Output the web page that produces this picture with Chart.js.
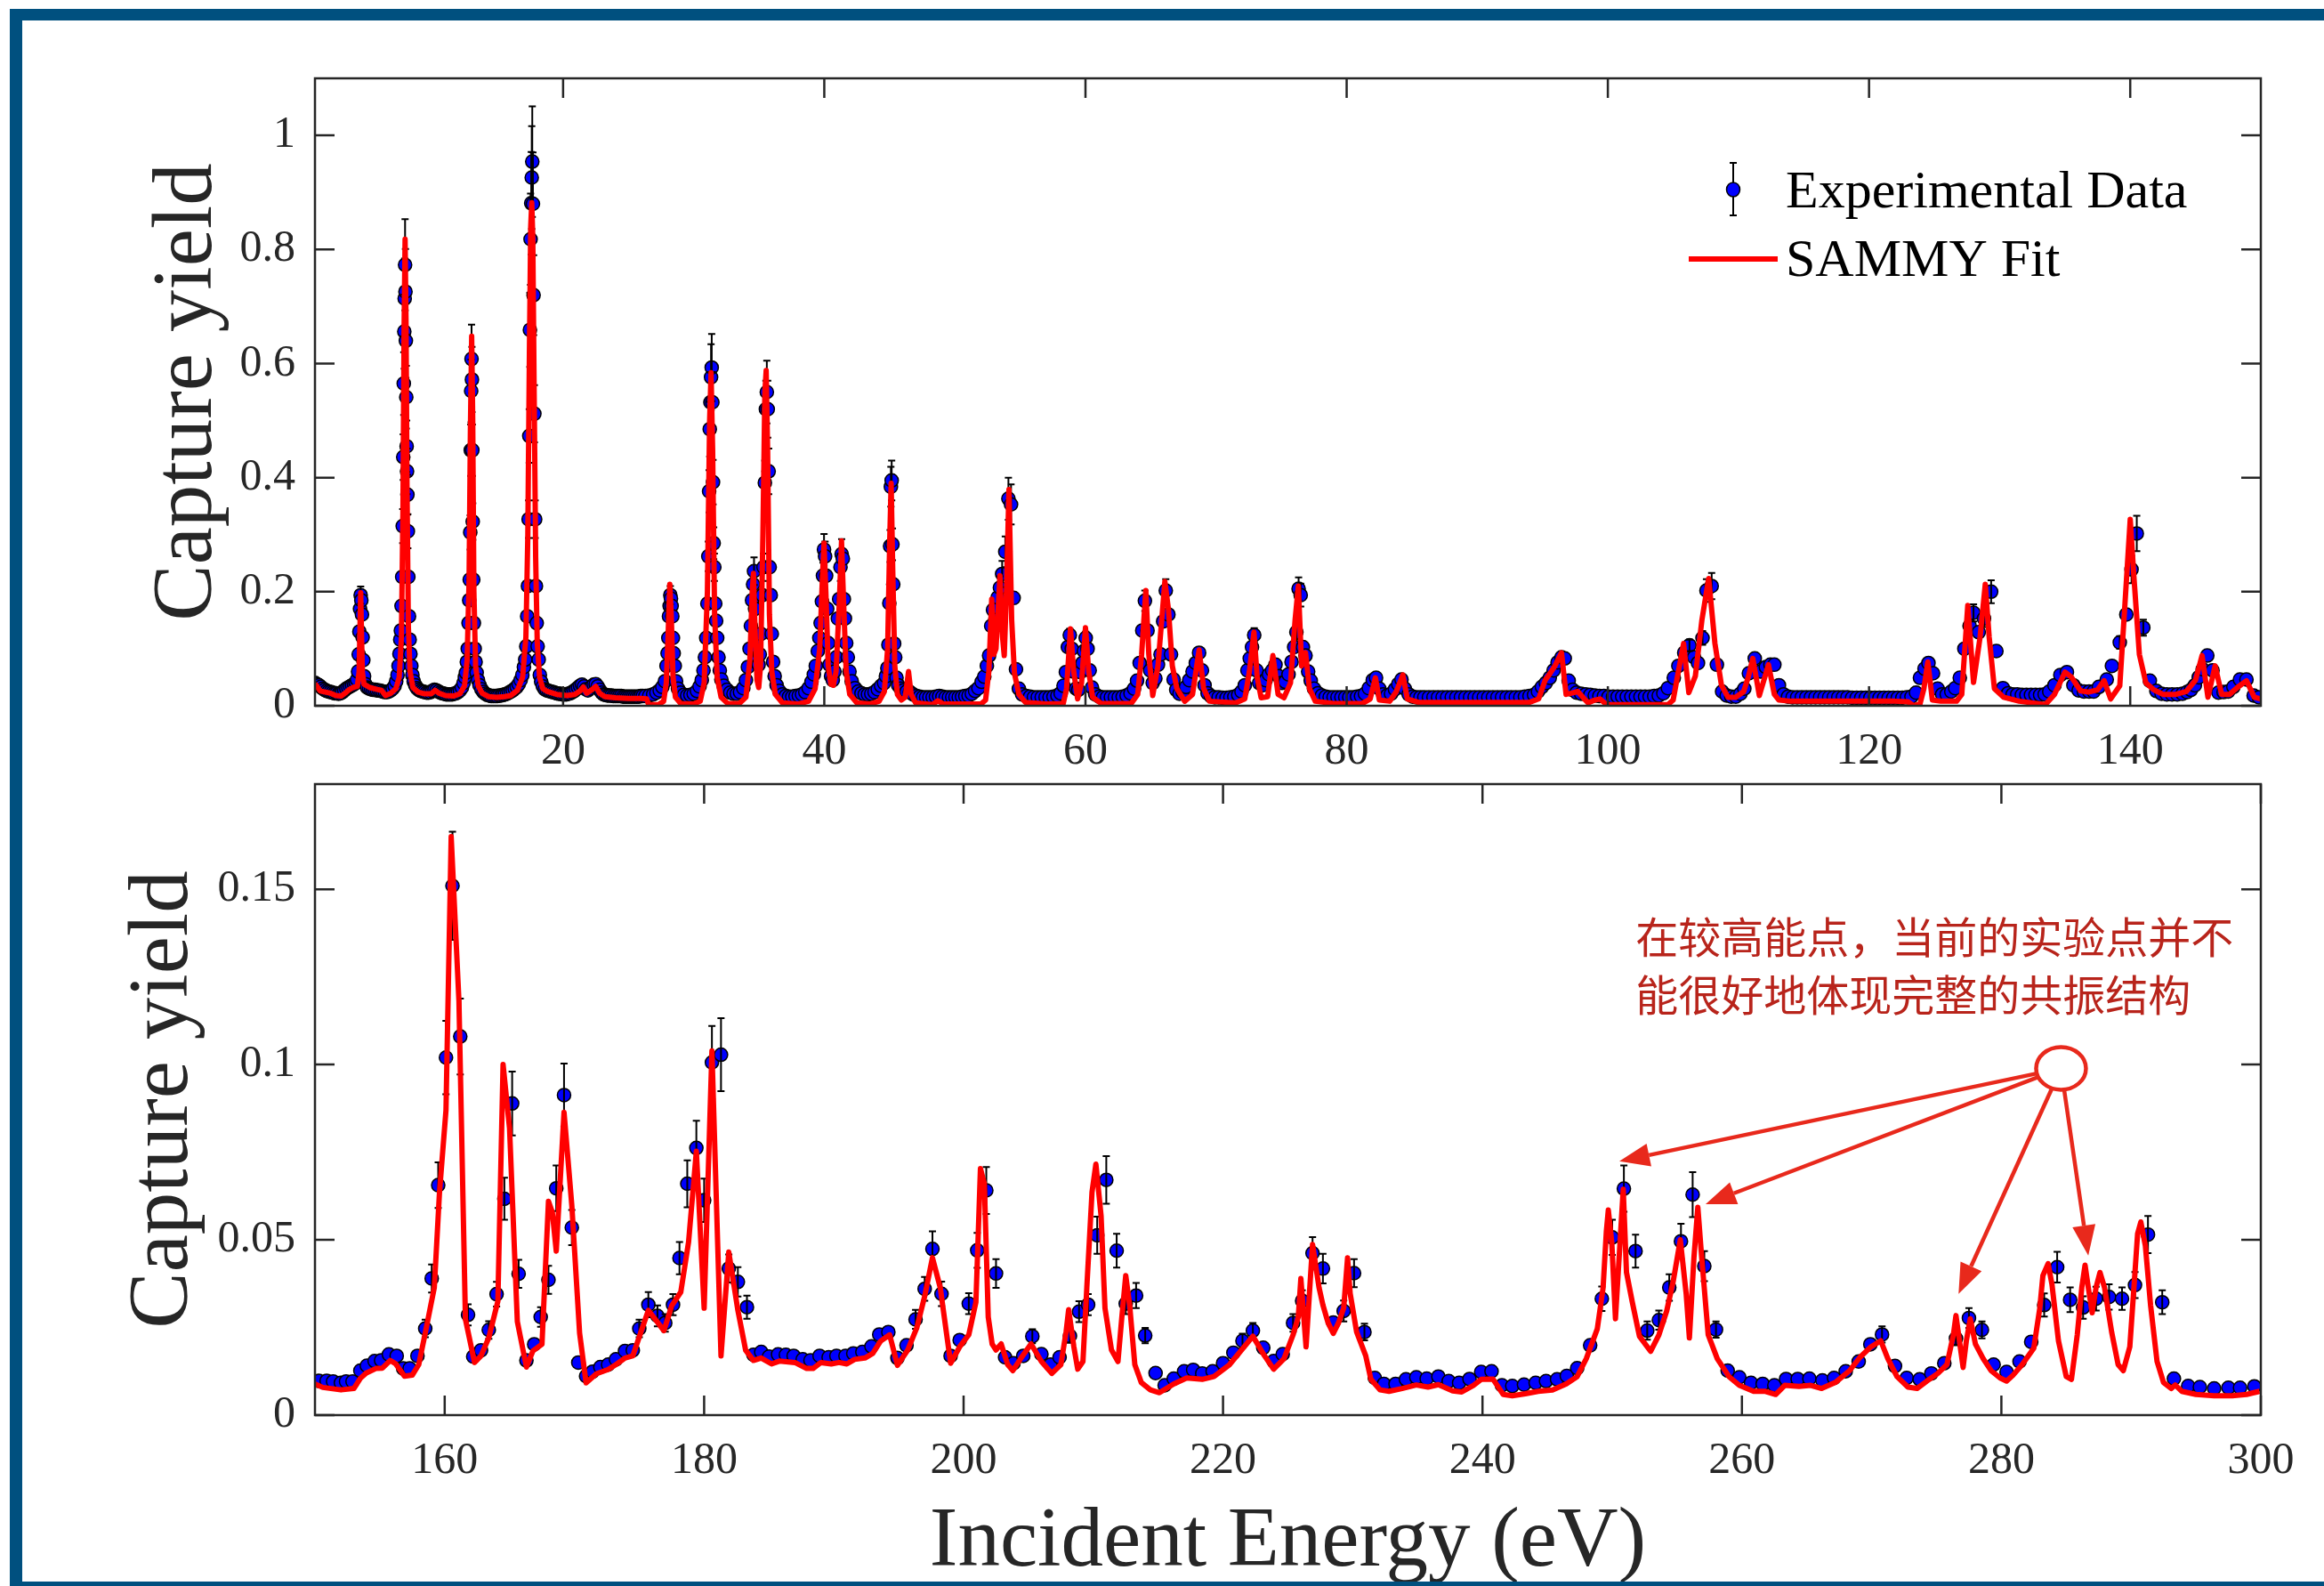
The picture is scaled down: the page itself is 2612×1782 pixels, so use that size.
<!DOCTYPE html>
<html>
<head>
<meta charset="utf-8">
<title>Capture yield</title>
<script src="https://cdn.jsdelivr.net/npm/chart.js@4.4.1/dist/chart.umd.min.js"></script>
<style>
  html, body { margin: 0; padding: 0; background: #fff; }
  #page { position: relative; width: 2612px; height: 1782px; overflow: hidden; background: #fff; }
  #page canvas { position: absolute; left: 0; }
  #topChart { top: 0; }
  #bottomChart { top: 870px; }
  .edge { position: absolute; background: #00507f; z-index: 2; }
</style>
</head>
<body>
<div id="page">
  <canvas id="topChart" width="2612" height="870"></canvas>
  <canvas id="bottomChart" width="2612" height="912"></canvas>
  <div class="edge" style="left:11px;top:10px;width:2601px;height:13px"></div>
  <div class="edge" style="left:11px;top:10px;width:14px;height:1772px"></div>
  <div class="edge" style="left:11px;top:1777px;width:2601px;height:5px"></div>
</div>
<script>
// ---- data: [energy eV, yield, error] ----
const expTop = [
  [1.00,0.040],[1.15,0.038],[1.30,0.036],[1.45,0.033],[1.60,0.030],[1.75,0.028],[1.90,0.026],[2.05,0.025],[2.20,0.024],[2.35,0.023],
  [2.50,0.022],[2.65,0.022],[2.80,0.021],[2.95,0.022],[3.10,0.024],[3.25,0.027],[3.40,0.030],[3.55,0.032],[3.70,0.034],[3.85,0.036],
  [4.00,0.038],[4.12,0.041],[4.22,0.046],[4.30,0.060],[4.35,0.090],[4.40,0.130],[4.45,0.170],[4.50,0.194,0.015],[4.55,0.185],[4.60,0.160],
  [4.65,0.120],[4.70,0.080],[4.76,0.052],[4.85,0.038],[5.00,0.032],[5.15,0.030],[5.30,0.029],[5.45,0.028],[5.60,0.028],[5.75,0.027],
  [5.90,0.027],[6.05,0.026],[6.20,0.025],[6.35,0.024],[6.50,0.024],[6.65,0.025],[6.80,0.027],[6.95,0.030],[7.10,0.035],[7.22,0.043],
  [7.32,0.054],[7.40,0.070],[7.47,0.091],[7.53,0.116],[7.58,0.132],[7.63,0.175],[7.68,0.226],[7.72,0.315,0.03],[7.76,0.436,0.04],[7.80,0.565,0.055],
  [7.84,0.656,0.065],[7.87,0.714,0.07],[7.90,0.773,0.08],[7.93,0.726,0.075],[7.96,0.640,0.065],[7.99,0.541,0.055],[8.02,0.455,0.045],[8.05,0.411,0.04],[8.08,0.370,0.035],[8.11,0.306,0.03],
  [8.15,0.226],[8.20,0.157],[8.25,0.116],[8.31,0.091],[8.38,0.070],[8.46,0.054],[8.56,0.043],[8.68,0.036],[8.80,0.031],[8.95,0.028],
  [9.10,0.026],[9.25,0.025],[9.40,0.024],[9.55,0.023],[9.70,0.023],[9.85,0.024],[10.00,0.026],[10.15,0.028],[10.30,0.027],[10.45,0.025],
  [10.60,0.023],[10.75,0.022],[10.90,0.021],[11.05,0.020],[11.20,0.020],[11.35,0.020],[11.50,0.020],[11.65,0.021],[11.80,0.022],[11.95,0.024],
  [12.10,0.027],[12.25,0.032],[12.38,0.040],[12.48,0.050],[12.56,0.058],[12.63,0.077],[12.70,0.100],[12.76,0.145],[12.81,0.185],[12.85,0.221],
  [12.89,0.304,0.03],[12.93,0.448,0.045],[12.96,0.552,0.055],[12.99,0.608,0.06],[13.02,0.572,0.057],[13.05,0.448,0.045],[13.08,0.323,0.032],[13.12,0.221],[13.17,0.145],[13.23,0.100],
  [13.30,0.077],[13.38,0.058],[13.48,0.045],[13.60,0.036],[13.75,0.029],[13.90,0.024],[14.05,0.021],[14.20,0.019],[14.35,0.018],[14.50,0.017],
  [14.65,0.017],[14.80,0.017],[14.95,0.017],[15.10,0.018],[15.25,0.018],[15.40,0.019],[15.55,0.020],[15.70,0.021],[15.85,0.023],[16.00,0.025],
  [16.15,0.027],[16.30,0.030],[16.45,0.033],[16.60,0.038],[16.75,0.045],[16.88,0.054],[17.00,0.068],[17.10,0.081],[17.18,0.104],[17.25,0.157],
  [17.31,0.210],[17.36,0.327,0.033],[17.41,0.473,0.047],[17.46,0.659,0.065],[17.51,0.818,0.08],[17.56,0.881,0.09],[17.60,0.926,0.09],[17.64,0.954,0.097],[17.69,0.880,0.09],[17.74,0.720,0.07],
  [17.80,0.512,0.05],[17.86,0.327,0.033],[17.92,0.210],[17.98,0.145],[18.05,0.104],[18.13,0.081],[18.22,0.054],[18.32,0.042],[18.45,0.034],[18.60,0.029],
  [18.75,0.027],[18.90,0.026],[19.05,0.025],[19.20,0.024],[19.35,0.023],[19.50,0.022],[19.65,0.021],[19.80,0.021],[19.95,0.020],[20.10,0.020],
  [20.25,0.020],[20.40,0.021],[20.55,0.022],[20.70,0.024],[20.85,0.026],[21.00,0.029],[21.15,0.032],[21.30,0.035],[21.45,0.037],[21.60,0.034],
  [21.75,0.029],[21.90,0.027],[22.05,0.030],[22.20,0.034],[22.35,0.037],[22.50,0.038],[22.65,0.034],[22.80,0.028],[22.95,0.023],[23.10,0.020],
  [23.25,0.019],[23.40,0.018],[23.55,0.018],[23.70,0.018],[23.85,0.017],[24.00,0.017],[24.15,0.017],[24.30,0.017],[24.45,0.017],[24.60,0.016],
  [24.75,0.016],[24.90,0.016],[25.05,0.016],[25.20,0.016],[25.35,0.016],[25.50,0.016],[25.65,0.016],[25.80,0.016],[25.95,0.017],[26.10,0.017],
  [26.30,0.017],[26.60,0.018],[26.90,0.020],[27.15,0.023],[27.40,0.027],[27.60,0.033],[27.80,0.043],[27.92,0.070],[28.00,0.092],[28.06,0.119],
  [28.11,0.157],[28.16,0.175],[28.21,0.194,0.016],[28.26,0.188],[28.31,0.175],[28.36,0.157],[28.41,0.119],[28.47,0.092],[28.55,0.070],[28.65,0.043],
  [28.80,0.030],[29.00,0.023],[29.25,0.019],[29.50,0.018],[29.75,0.019],[30.00,0.021],[30.25,0.026],[30.45,0.034],[30.62,0.045],[30.75,0.062],
  [30.86,0.085],[30.96,0.119],[31.05,0.179],[31.12,0.262,0.026],[31.18,0.376,0.037],[31.23,0.485,0.048],[31.28,0.532,0.053],[31.33,0.576,0.058],[31.38,0.593,0.059],[31.43,0.532,0.053],
  [31.48,0.392,0.039],[31.53,0.285,0.028],[31.58,0.243,0.024],[31.65,0.179],[31.72,0.149],[31.80,0.119],[31.90,0.085],[32.00,0.062],[32.12,0.046],[32.30,0.035],
  [32.55,0.028],[32.80,0.023],[33.05,0.021],[33.30,0.021],[33.55,0.024],[33.80,0.031],[34.00,0.045],[34.15,0.068],[34.28,0.100],[34.38,0.140],
  [34.47,0.185],[34.55,0.213],[34.62,0.236,0.024],[34.70,0.170],[34.79,0.115],[34.88,0.085],[34.97,0.072],[35.06,0.090],[35.15,0.126],[35.25,0.194],
  [35.35,0.243,0.024],[35.45,0.391,0.039],[35.53,0.520,0.05],[35.60,0.550,0.055],[35.67,0.520,0.05],[35.74,0.411,0.04],[35.82,0.243],[35.90,0.194],[35.98,0.126],[36.08,0.077],
  [36.20,0.052],[36.35,0.036],[36.55,0.026],[36.80,0.020],[37.05,0.017],[37.30,0.016],[37.55,0.016],[37.80,0.017],[38.05,0.018],[38.30,0.020],
  [38.55,0.024],[38.80,0.031],[39.02,0.042],[39.20,0.055],[39.35,0.070],[39.50,0.096],[39.62,0.119],[39.72,0.145],[39.82,0.183],[39.90,0.228,0.023],
  [39.98,0.274,0.027],[40.06,0.262,0.026],[40.14,0.228],[40.22,0.170],[40.30,0.110],[40.40,0.072],[40.52,0.052],[40.65,0.045],[40.78,0.060],[40.92,0.085],
  [41.04,0.153],[41.14,0.187],[41.24,0.243,0.024],[41.33,0.266,0.026],[41.42,0.258],[41.50,0.187],[41.58,0.153],[41.68,0.110],[41.80,0.085],[41.93,0.060],
  [42.10,0.043],[42.35,0.031],[42.60,0.025],[42.85,0.022],[43.10,0.020],[43.35,0.020],[43.60,0.021],[43.85,0.024],[44.10,0.029],[44.35,0.035],
  [44.58,0.040],[44.72,0.052],[44.83,0.066],[44.91,0.107],[44.98,0.180],[45.04,0.280,0.028],[45.10,0.384,0.035],[45.16,0.395,0.035],[45.22,0.283,0.028],[45.28,0.213],
  [45.35,0.109],[45.43,0.085],[45.53,0.049],[45.66,0.036],[45.85,0.030],[46.05,0.027],[46.30,0.025],[46.55,0.024],[46.80,0.020],[47.05,0.017],
  [47.30,0.016],[47.55,0.015],[47.80,0.015],[48.05,0.015],[48.30,0.015],[48.55,0.016],[48.80,0.017],[49.05,0.016],[49.30,0.015],[49.55,0.015],
  [49.80,0.015],[50.05,0.015],[50.30,0.015],[50.55,0.016],[50.80,0.017],[51.05,0.018],[51.30,0.021],[51.55,0.026],[51.80,0.031],[52.05,0.042],
  [52.25,0.051],[52.45,0.070],[52.62,0.088],[52.78,0.140],[52.92,0.168],[53.10,0.150],[53.28,0.190],[53.45,0.207,0.02],[53.62,0.231,0.023],[53.86,0.270,0.027],
  [54.10,0.363,0.037],[54.30,0.353,0.035],[54.50,0.189],[54.68,0.064],[54.90,0.030],[55.15,0.020],[55.45,0.017],[55.75,0.016],[56.05,0.015],[56.35,0.015],
  [56.65,0.015],[56.95,0.015],[57.25,0.015],[57.55,0.016],[57.85,0.018],[58.10,0.022],[58.32,0.035],[58.50,0.059],[58.65,0.103],[58.80,0.124,0.011],
  [58.95,0.100],[59.10,0.060],[59.28,0.030],[59.45,0.028],[59.62,0.059],[59.76,0.075],[59.88,0.096],[60.02,0.119,0.011],[60.16,0.100],[60.32,0.062],
  [60.50,0.032],[60.75,0.020],[61.05,0.016],[61.35,0.015],[61.65,0.015],[61.95,0.015],[62.25,0.015],[62.55,0.015],[62.85,0.016],[63.15,0.018],
  [63.45,0.022],[63.72,0.030],[63.95,0.044],[64.15,0.075],[64.35,0.132],[64.55,0.184,0.018],[64.75,0.132],[64.95,0.062],[65.15,0.040],[65.35,0.048],
  [65.55,0.072],[65.75,0.090],[65.95,0.148],[66.15,0.202,0.02],[66.35,0.160],[66.55,0.090],[66.75,0.046],[66.95,0.028],[67.20,0.021],[67.45,0.024],
  [67.70,0.033],[67.95,0.045],[68.20,0.060],[68.45,0.075],[68.70,0.093],[68.92,0.062],[69.12,0.036],[69.35,0.022],[69.60,0.017],[69.90,0.015],
  [70.20,0.015],[70.50,0.014],[70.80,0.014],[71.10,0.015],[71.40,0.016],[71.70,0.019],[71.95,0.025],[72.20,0.036],[72.40,0.062],[72.58,0.083],
  [72.75,0.103],[72.92,0.124,0.012],[73.10,0.062],[73.30,0.040],[73.55,0.036],[73.80,0.045],[74.05,0.055],[74.30,0.062],[74.55,0.072],[74.80,0.052],
  [75.05,0.040],[75.30,0.042],[75.55,0.055],[75.78,0.077],[75.98,0.103],[76.15,0.129,0.013],[76.32,0.205,0.02],[76.48,0.194,0.02],[76.65,0.103],[76.85,0.088],
  [77.05,0.060],[77.25,0.044],[77.50,0.030],[77.80,0.022],[78.10,0.018],[78.40,0.016],[78.70,0.015],[79.00,0.015],[79.30,0.015],[79.60,0.015],
  [79.90,0.015],[80.20,0.015],[80.50,0.015],[80.80,0.016],[81.10,0.017],[81.40,0.021],[81.70,0.031],[82.00,0.045],[82.25,0.049],[82.50,0.030],
  [82.80,0.020],[83.10,0.018],[83.40,0.021],[83.70,0.029],[83.95,0.038],[84.20,0.046],[84.45,0.030],[84.75,0.020],[85.05,0.016],[85.35,0.015],
  [85.65,0.015],[85.95,0.015],[86.30,0.015],[86.65,0.015],[87.00,0.015],[87.35,0.015],[87.70,0.015],[88.05,0.015],[88.40,0.015],[88.75,0.015],
  [89.10,0.015],[89.45,0.015],[89.80,0.015],[90.15,0.015],[90.50,0.015],[90.85,0.015],[91.20,0.015],[91.55,0.015],[91.90,0.015],[92.25,0.015],
  [92.60,0.015],[92.95,0.015],[93.30,0.015],[93.65,0.016],[94.00,0.017],[94.35,0.019],[94.65,0.025],[94.95,0.033],[95.25,0.040],[95.55,0.049],
  [95.85,0.062],[96.15,0.076],[96.45,0.085],[96.70,0.083],[97.00,0.044],[97.30,0.028],[97.60,0.023],[97.95,0.021],[98.30,0.020],[98.65,0.019],
  [99.00,0.018],[99.35,0.017],[99.70,0.017],[100.05,0.016],[100.40,0.016],[100.75,0.016],[101.10,0.016],[101.45,0.016],[101.80,0.016],[102.15,0.016],
  [102.50,0.016],[102.85,0.016],[103.20,0.016],[103.55,0.017],[103.90,0.018],[104.25,0.022],[104.60,0.031],[105.05,0.049],[105.40,0.070],[105.85,0.093],
  [106.25,0.106,0.01],[106.60,0.085],[106.90,0.075],[107.25,0.119,0.012],[107.55,0.202,0.02],[107.95,0.210,0.023],[108.35,0.072],[108.75,0.025],[109.10,0.018],[109.45,0.016],
  [109.80,0.016],[110.15,0.021],[110.45,0.030],[110.80,0.057],[111.25,0.083],[111.70,0.060],[112.10,0.068],[112.45,0.072],[112.75,0.072],[113.10,0.036],
  [113.45,0.020],[113.80,0.016],[114.15,0.015],[114.50,0.015],[114.85,0.015],[115.20,0.015],[115.55,0.015],[115.90,0.015],[116.25,0.015],[116.60,0.015],
  [116.95,0.015],[117.30,0.015],[117.65,0.015],[118.00,0.015],[118.35,0.015],[118.70,0.014],[119.05,0.014],[119.40,0.014],[119.75,0.014],[120.10,0.014],
  [120.45,0.014],[120.80,0.014],[121.15,0.014],[121.50,0.014],[121.85,0.014],[122.20,0.014],[122.55,0.014],[122.90,0.015],[123.25,0.016],[123.60,0.023],
  [123.90,0.049],[124.25,0.065],[124.55,0.075],[124.90,0.057],[125.25,0.030],[125.60,0.020],[125.95,0.020],[126.30,0.025],[126.60,0.031],[126.95,0.049],
  [127.30,0.100],[127.70,0.140],[128.00,0.163,0.015],[128.40,0.129],[128.80,0.153,0.015],[129.35,0.200,0.02],[129.75,0.096],[130.25,0.031],[130.65,0.022],[131.00,0.020],
  [131.35,0.020],[131.70,0.019],[132.05,0.019],[132.40,0.019],[132.75,0.019],[133.10,0.019],[133.45,0.020],[133.80,0.025],[134.20,0.036],[134.65,0.054],
  [135.15,0.059],[135.65,0.036],[136.05,0.027],[136.45,0.025],[136.85,0.025],[137.20,0.025],[137.60,0.033],[138.20,0.046],[138.60,0.070],[139.20,0.111,0.011],
  [139.70,0.160],[140.10,0.239,0.024],[140.50,0.302,0.031],[141.00,0.137,0.014],[141.50,0.044],[142.00,0.026],[142.40,0.021],[142.80,0.020],[143.20,0.020],[143.60,0.020],
  [144.00,0.021],[144.35,0.024],[144.65,0.028],[144.95,0.036],[145.25,0.050],[145.55,0.064],[145.90,0.088],[146.30,0.062],[146.75,0.023],[147.15,0.024],
  [147.50,0.025],[147.90,0.033],[148.40,0.046],[148.90,0.046],[149.45,0.018],[149.85,0.015]
];

const fitTop = [
  [1.0,0.039],[1.4,0.026],[1.8,0.024],[2.2,0.022],[2.6,0.018],[3.0,0.017],[3.3,0.022],[3.6,0.028],[3.9,0.032],[4.25,0.034],
  [4.38,0.06],[4.44,0.13],[4.5,0.198],[4.56,0.13],[4.63,0.06],[4.75,0.038],[5.2,0.032],[5.7,0.029],[6.1,0.027],[6.4,0.018],
  [6.8,0.022],[7.2,0.03],[7.45,0.05],[7.62,0.12],[7.74,0.35],[7.82,0.65],[7.9,0.818],[7.97,0.68],[8.05,0.38],[8.15,0.14],
  [8.28,0.06],[8.5,0.032],[8.9,0.024],[9.4,0.021],[9.9,0.021],[10.2,0.027],[10.5,0.022],[11.0,0.018],[11.6,0.017],[12.1,0.021],
  [12.45,0.035],[12.65,0.08],[12.8,0.22],[12.9,0.48],[13.0,0.648],[13.08,0.5],[13.17,0.2],[13.3,0.07],[13.5,0.035],[13.8,0.022],
  [14.3,0.016],[14.9,0.015],[15.5,0.016],[16.0,0.018],[16.5,0.027],[16.9,0.05],[17.15,0.12],[17.3,0.3],[17.42,0.62],[17.52,0.84],
  [17.6,0.882],[17.68,0.82],[17.78,0.56],[17.9,0.26],[18.02,0.11],[18.2,0.05],[18.45,0.03],[18.8,0.025],[19.5,0.02],[20.3,0.018],
  [20.9,0.02],[21.3,0.026],[21.55,0.033],[21.8,0.022],[22.2,0.028],[22.5,0.034],[22.8,0.022],[23.2,0.016],[24.0,0.014],[25.0,0.013],
  [26.0,0.013],[26.4,0.012],[26.55,0.002],[27.3,0.002],[27.7,0.008],[27.9,0.04],[28.05,0.13],[28.17,0.213],[28.28,0.16],[28.42,0.05],
  [28.6,0.015],[29.0,0.004],[30.0,0.003],[30.5,0.008],[30.8,0.04],[31.05,0.2],[31.22,0.5],[31.33,0.584],[31.45,0.45],[31.6,0.16],
  [31.8,0.05],[32.1,0.015],[32.6,0.004],[33.5,0.004],[34.0,0.015],[34.3,0.08],[34.48,0.2],[34.58,0.232],[34.7,0.13],[34.85,0.045],
  [34.98,0.032],[35.12,0.07],[35.3,0.3],[35.45,0.55],[35.55,0.588],[35.66,0.45],[35.8,0.16],[35.98,0.06],[36.25,0.02],[36.8,0.005],
  [38.0,0.003],[38.8,0.008],[39.3,0.03],[39.65,0.1],[39.85,0.22],[39.98,0.285],[40.12,0.2],[40.3,0.07],[40.5,0.038],[40.7,0.036],
  [40.9,0.06],[41.15,0.18],[41.32,0.289],[41.48,0.18],[41.68,0.06],[41.95,0.02],[42.5,0.005],[43.5,0.003],[44.2,0.008],[44.6,0.025],
  [44.85,0.1],[45.0,0.28],[45.12,0.39],[45.24,0.24],[45.4,0.07],[45.6,0.02],[45.9,0.01],[46.2,0.015],[46.45,0.06],[46.65,0.02],
  [47.0,0.005],[48.3,0.002],[48.7,0.009],[49.1,0.003],[50.5,0.003],[52.0,0.003],[52.35,0.01],[52.6,0.06],[52.82,0.187],[52.98,0.09],
  [53.15,0.1],[53.45,0.228],[53.65,0.12],[53.78,0.088],[53.95,0.2],[54.14,0.379],[54.35,0.15],[54.56,0.057],[54.9,0.02],[55.4,0.006],
  [57.0,0.003],[58.3,0.004],[58.55,0.03],[58.85,0.135],[59.1,0.06],[59.4,0.012],[59.7,0.04],[60.0,0.137],[60.25,0.06],[60.55,0.015],
  [61.2,0.004],[63.5,0.004],[64.0,0.02],[64.3,0.09],[64.62,0.202],[64.85,0.09],[65.15,0.018],[65.55,0.07],[66.08,0.218],[66.35,0.17],
  [66.65,0.07],[67.0,0.03],[67.6,0.008],[68.2,0.02],[68.7,0.098],[69.05,0.03],[69.5,0.008],[71.5,0.005],[72.2,0.012],[72.55,0.06],
  [72.9,0.129],[73.15,0.05],[73.45,0.014],[73.95,0.016],[74.35,0.088],[74.75,0.02],[75.2,0.014],[75.7,0.04],[76.05,0.15],[76.3,0.21],
  [76.55,0.07],[76.85,0.093],[77.15,0.03],[77.6,0.008],[79.0,0.004],[81.2,0.004],[81.8,0.012],[82.2,0.049],[82.5,0.01],[83.3,0.008],
  [83.8,0.025],[84.3,0.054],[84.65,0.012],[85.5,0.006],[90.0,0.006],[94.0,0.006],[94.7,0.012],[95.2,0.045],[95.55,0.056],[95.95,0.07],
  [96.45,0.093],[96.8,0.02],[97.2,0.022],[97.7,0.025],[98.2,0.012],[98.5,0.005],[99.0,0.01],[99.4,0.012],[99.9,0.002],[104.6,0.002],
  [105.0,0.01],[105.4,0.06],[105.8,0.109],[106.2,0.023],[106.7,0.052],[107.2,0.15],[107.72,0.223],[108.2,0.109],[108.7,0.036],[109.2,0.015],
  [109.8,0.015],[110.4,0.025],[110.75,0.05],[111.1,0.083],[111.6,0.018],[112.3,0.072],[112.75,0.02],[113.1,0.01],[114.0,0.008],[118.0,0.008],
  [122.0,0.008],[123.0,0.007],[123.4,0.0],[123.9,0.003],[124.2,0.03],[124.5,0.077],[124.85,0.01],[125.5,0.008],[126.7,0.008],[127.1,0.02],
  [127.56,0.176],[128.0,0.041],[128.5,0.12],[128.9,0.213],[129.2,0.12],[129.6,0.03],[130.3,0.015],[131.5,0.008],[133.5,0.002],[134.2,0.02],
  [135.0,0.059],[135.5,0.05],[136.2,0.026],[136.8,0.024],[137.5,0.028],[138.0,0.044],[138.5,0.012],[139.2,0.035],[139.6,0.18],[140.0,0.327],
  [140.3,0.22],[140.7,0.09],[141.2,0.04],[141.8,0.028],[142.5,0.02],[143.5,0.02],[144.3,0.025],[145.0,0.045],[145.5,0.088],[145.95,0.015],
  [146.5,0.07],[147.0,0.02],[147.6,0.02],[148.2,0.032],[148.9,0.044],[149.5,0.015],[150.0,0.012]
];

const expBottom = [
  [150.3,0.0098],[150.9,0.0098],[151.4,0.0096],[152.0,0.0092],[152.4,0.0096],[152.9,0.0096],[153.5,0.0127],[154.0,0.0141],[154.6,0.0154],[155.1,0.0156],
  [155.7,0.0173],[156.3,0.0169],[156.8,0.0133],[157.3,0.0133],[157.9,0.0169],[158.5,0.0247,0.0025],[159.0,0.039,0.004],[159.5,0.0656,0.0065],[160.1,0.102,0.0105],[160.6,0.151,0.0154],
  [161.2,0.108,0.0108],[161.8,0.0286,0.003],[162.2,0.0167],[162.8,0.0185],[163.4,0.0243,0.0025],[164.0,0.0345,0.0035],[164.6,0.0617,0.006],[165.2,0.0889,0.0091],[165.7,0.0403,0.004],[166.3,0.0156],
  [166.9,0.0202],[167.4,0.028,0.0028],[168.0,0.0386,0.004],[168.6,0.0647,0.0065],[169.2,0.0913,0.009],[169.8,0.0535,0.005],[170.3,0.015],[170.9,0.0111],[171.4,0.0124],[172.0,0.0137],
  [172.6,0.0144],[173.2,0.0159],[173.9,0.0183],[174.5,0.0185],[175.0,0.0247,0.0025],[175.7,0.0315,0.0036],[176.4,0.0283,0.003],[177.0,0.0263,0.0025],[177.6,0.0315,0.003],[178.1,0.0448,0.0046],
  [178.7,0.066,0.0067],[179.4,0.0762,0.0078],[180.0,0.0613,0.0062],[180.6,0.1006,0.0104],[181.3,0.1028,0.0104],[181.9,0.0418,0.004],[182.6,0.038,0.0042],[183.3,0.0308,0.0033],[183.8,0.0172],[184.4,0.018],
  [185.0,0.0167],[185.7,0.0173],[186.3,0.0172],[186.9,0.0169],[187.6,0.0159],[188.2,0.0156],[188.9,0.0169],[189.6,0.0165],[190.2,0.0169],[190.9,0.0169],
  [191.5,0.0176],[192.2,0.018],[192.9,0.0196],[193.5,0.023],[194.2,0.0237],[194.9,0.0163],[195.6,0.0199],[196.3,0.0273,0.0027],[197.0,0.036,0.0034],[197.6,0.0474,0.005],
  [198.3,0.0346,0.0035],[199.0,0.0169],[199.7,0.0214],[200.4,0.0318,0.003],[201.05,0.047,0.005],[201.75,0.0641,0.0067],[202.5,0.0404,0.0041],[203.2,0.0165],[203.85,0.0148],[204.6,0.0169],
  [205.3,0.0225,0.002],[206.0,0.0174],[206.7,0.0144],[207.4,0.0165],[208.2,0.0226,0.002],[208.9,0.0295,0.003],[209.6,0.0315,0.003],[210.3,0.0513,0.0053],[211.0,0.0671,0.0068],[211.8,0.0469,0.0048],
  [212.5,0.0318,0.003],[213.3,0.0341,0.0036],[214.0,0.0227,0.0022],[214.8,0.012],[215.5,0.0085],[216.2,0.0104],[217.0,0.0125],[217.7,0.0129],[218.4,0.0119],[219.2,0.0125],
  [220.0,0.0148],[220.8,0.0178],[221.5,0.0212,0.002],[222.3,0.0241,0.0022],[223.1,0.0192],[223.9,0.0154],[224.6,0.0174],[225.4,0.0263,0.0025],[226.1,0.0326,0.003],[226.9,0.0462,0.0046],
  [227.7,0.0418,0.0042],[228.5,0.0264],[229.3,0.0297,0.003],[230.1,0.0405,0.004],[230.9,0.0237,0.0024],[231.7,0.0106],[232.4,0.0089],[233.3,0.0089],[234.1,0.0102],[234.9,0.0108],
  [235.7,0.0104],[236.6,0.011],[237.4,0.0097],[238.2,0.0092],[239.0,0.0103],[239.9,0.0123],[240.7,0.0125],[241.5,0.0085],[242.3,0.0083],[243.2,0.0087],
  [244.1,0.0092],[244.9,0.0097],[245.75,0.0102],[246.5,0.0112],[247.3,0.0134],[248.3,0.0199],[249.2,0.0332,0.0035],[250.0,0.0507,0.005],[250.9,0.0646,0.0066],[251.8,0.0468,0.0047],
  [252.7,0.0241,0.0026],[253.6,0.0271,0.0027],[254.4,0.0364,0.0038],[255.3,0.0496,0.005],[256.2,0.0629,0.0064],[257.1,0.0425,0.0043],[258.0,0.0244,0.0023],[258.9,0.0127],[259.8,0.0108],[260.7,0.0092],
  [261.6,0.0089],[262.5,0.0085],[263.4,0.0103],[264.3,0.0103],[265.2,0.0104],[266.2,0.0099],[267.1,0.0106],[268.0,0.0125],[269.0,0.0153],[269.9,0.0202],
  [270.8,0.023,0.0023],[271.8,0.014],[272.7,0.0106],[273.7,0.0102],[274.6,0.0119],[275.6,0.0148],[276.5,0.0219,0.002],[277.5,0.0277,0.0028],[278.5,0.0243,0.0024],[279.4,0.0144],
  [280.4,0.0123],[281.4,0.0153],[282.3,0.0209],[283.3,0.0314,0.0033],[284.3,0.0422,0.0044],[285.3,0.0329,0.0035],[286.3,0.0307,0.0032],[287.3,0.0332,0.0034],[288.3,0.0337,0.0036],[289.3,0.0332,0.0032],
  [290.3,0.0371,0.0037],[291.3,0.0515,0.0053],[292.4,0.0322,0.0034],[293.3,0.0104],[294.4,0.0083],[295.3,0.008],[296.4,0.0076],[297.5,0.0078],[298.4,0.0078],[299.5,0.0082]
];

const fitBottom = [
  [150.0,0.0089],[150.6,0.0079],[152.0,0.0072],[153.0,0.0076],[153.5,0.0105],[153.95,0.012],[154.7,0.0133],[155.2,0.0134],[155.8,0.0156],[156.2,0.0147],
  [156.9,0.0111],[157.5,0.0114],[158.0,0.0144],[158.5,0.0234],[159.2,0.0364],[159.6,0.0636],[160.1,0.087],[160.5,0.165],[161.1,0.118],[161.6,0.0273],
  [162.3,0.015],[162.8,0.0169],[163.4,0.0221],[164.1,0.0325],[164.5,0.1],[165.0,0.0818],[165.6,0.0267],[166.3,0.0137],[166.8,0.0183],[167.5,0.0202],
  [168.0,0.061],[168.3,0.0578],[168.6,0.0468],[169.2,0.0864],[169.8,0.0598],[170.4,0.0234],[170.9,0.0092],[171.7,0.0118],[172.6,0.013],[173.2,0.0144],
  [173.9,0.0163],[174.5,0.0169],[175.1,0.0234],[175.7,0.0299],[176.9,0.0241],[177.5,0.0312],[178.2,0.0351],[178.8,0.0494],[179.4,0.0753],[180.0,0.0305],
  [180.6,0.1039],[181.3,0.0169],[181.9,0.0465],[182.6,0.0299],[183.2,0.0185],[183.8,0.0156],[184.4,0.0163],[185.2,0.0146],[185.8,0.0154],[187.0,0.015],
  [187.9,0.0133],[188.4,0.0133],[189.0,0.015],[189.8,0.0146],[190.4,0.015],[191.0,0.0146],[191.6,0.0159],[192.4,0.0163],[193.0,0.0176],[193.6,0.0211],
  [194.3,0.0229],[194.9,0.0142],[195.7,0.0186],[196.4,0.025],[197.0,0.0339],[197.6,0.0449],[198.2,0.0364],[198.7,0.0229],[199.0,0.0148],[199.7,0.0195],
  [200.4,0.0229],[200.95,0.0322],[201.3,0.0703],[201.6,0.066],[201.9,0.028],[202.2,0.0203],[202.5,0.0186],[202.9,0.0203],[203.4,0.0144],[203.8,0.0127],
  [204.4,0.0161],[205.2,0.0203],[206.0,0.0153],[206.8,0.0119],[207.5,0.0144],[207.9,0.0237],[208.1,0.0301],[208.5,0.0195],[208.8,0.0131],[209.2,0.0153],
  [209.5,0.0364],[209.9,0.0636],[210.2,0.0716],[210.6,0.0568],[210.9,0.0305],[211.4,0.0186],[211.9,0.0153],[212.2,0.028],[212.5,0.0398],[212.8,0.0314],
  [213.2,0.0144],[213.7,0.0093],[214.4,0.0072],[215.1,0.0064],[216.2,0.0089],[217.2,0.0106],[218.4,0.0102],[219.3,0.011],[220.5,0.0144],[222.3,0.0225],
  [223.2,0.0169],[223.9,0.0131],[224.7,0.0161],[225.4,0.0229],[225.8,0.028],[226.0,0.039],[226.4,0.0195],[226.9,0.0487],[227.4,0.0364],[227.7,0.0314],
  [228.1,0.0263],[228.5,0.0233],[228.9,0.0263],[229.3,0.0305],[229.6,0.0449],[229.8,0.0347],[230.3,0.0237],[231.0,0.0169],[231.4,0.0102],[232.1,0.0072],
  [232.8,0.0068],[233.8,0.0076],[234.9,0.0086],[235.8,0.008],[236.6,0.0087],[237.7,0.0069],[238.4,0.0066],[239.3,0.0085],[239.9,0.0102],[240.8,0.0103],
  [241.6,0.0059],[242.3,0.0055],[243.3,0.0061],[244.3,0.0068],[245.4,0.0072],[246.45,0.0089],[247.3,0.011],[248.0,0.0161],[248.85,0.0246],[249.3,0.0364],
  [249.55,0.0525],[249.7,0.0585],[249.97,0.0491],[250.25,0.0275],[250.6,0.0491],[250.85,0.0644],[251.1,0.0407],[251.55,0.0322],[252.1,0.0225],[252.96,0.0182],
  [253.6,0.0229],[254.2,0.0297],[254.7,0.0381],[255.25,0.05],[255.7,0.0347],[255.95,0.022],[256.3,0.0449],[256.6,0.0593],[256.9,0.0449],[257.4,0.0229],
  [258.1,0.0161],[259.0,0.011],[259.8,0.0085],[260.9,0.0068],[261.75,0.0068],[262.6,0.0059],[263.3,0.0085],[264.4,0.0082],[265.3,0.0085],[266.15,0.0076],
  [267.2,0.0093],[268.3,0.0127],[269.1,0.0165],[269.95,0.0195],[270.7,0.0212],[271.25,0.0161],[271.95,0.011],[272.8,0.008],[273.5,0.0076],[274.25,0.0097],
  [275.1,0.0119],[275.8,0.0144],[276.3,0.0229],[276.5,0.0284],[276.8,0.0203],[277.05,0.0136],[277.3,0.0212],[277.6,0.0275],[278.0,0.0203],[278.6,0.0161],
  [279.2,0.0127],[279.9,0.0106],[280.4,0.0097],[280.9,0.0114],[281.6,0.0144],[282.5,0.0191],[282.96,0.0305],[283.2,0.0398],[283.6,0.0432],[283.9,0.0373],
  [284.4,0.0212],[285.0,0.011],[285.4,0.0102],[285.85,0.0229],[286.2,0.0364],[286.45,0.0428],[286.7,0.0364],[287.0,0.0292],[287.3,0.0364],[287.6,0.0407],
  [287.95,0.0364],[288.5,0.0237],[289.0,0.0144],[289.4,0.0127],[289.9,0.0195],[290.25,0.0381],[290.5,0.0517],[290.75,0.0551],[291.1,0.0483],[291.5,0.0314],
  [292.0,0.0153],[292.5,0.0093],[293.1,0.0076],[293.4,0.0086],[293.9,0.0068],[295.0,0.0059],[296.4,0.0055],[297.8,0.0055],[298.9,0.0059],[299.9,0.0068]
];

const xTicksTop = [20, 40, 60, 80, 100, 120, 140];
const xTicksBottom = [160, 180, 200, 220, 240, 260, 280, 300];
const yTicksTop = [0, 0.2, 0.4, 0.6, 0.8, 1];
const yTicksBottom = [0, 0.05, 0.1, 0.15];

const noteLines = ['在较高能点，当前的实验点并不', '能很好地体现完整的共振结构'];

// ---- styling ----
const INK = '#262626';
const SERIF = "'Liberation Serif', 'Times New Roman', serif";
Chart.defaults.font.family = SERIF;
Chart.defaults.color = INK;

const toPoints = rows => rows.map(r => ({ x: r[0], y: r[1] }));

// box around the plot area with inward ticks on all four sides
const axisFrame = {
    id: 'axisFrame',
    afterDraw(chart) {
        const { ctx, chartArea: a, scales: { x, y } } = chart;
        const len = 22;
        ctx.save();
        ctx.strokeStyle = INK;
        ctx.lineWidth = 2.5;
        ctx.beginPath();
        x.ticks.forEach(t => {
            const px = x.getPixelForValue(t.value);
            ctx.moveTo(px, a.bottom); ctx.lineTo(px, a.bottom - len);
            ctx.moveTo(px, a.top); ctx.lineTo(px, a.top + len);
        });
        y.ticks.forEach(t => {
            const py = y.getPixelForValue(t.value);
            ctx.moveTo(a.left, py); ctx.lineTo(a.left + len, py);
            ctx.moveTo(a.right, py); ctx.lineTo(a.right - len, py);
        });
        ctx.stroke();
        ctx.strokeRect(a.left, a.top, a.right - a.left, a.bottom - a.top);
        ctx.restore();
    }
};

// vertical error bars, drawn right after the marker dataset
function makeErrorBars(rows) {
    return {
        id: 'errorBars',
        afterDatasetDraw(chart, args) {
            if (args.index !== 0) return;
            const { ctx, chartArea: a, scales: { x, y } } = chart;
            ctx.save();
            ctx.beginPath();
            ctx.rect(a.left, a.top, a.right - a.left, a.bottom - a.top);
            ctx.clip();
            ctx.strokeStyle = '#000';
            ctx.lineWidth = 2;
            ctx.beginPath();
            rows.forEach(r => {
                if (r.length < 3) return;
                const px = x.getPixelForValue(r[0]);
                const top = y.getPixelForValue(r[1] + r[2]);
                const bot = y.getPixelForValue(r[1] - r[2]);
                ctx.moveTo(px, top); ctx.lineTo(px, bot);
                ctx.moveTo(px - 4, top); ctx.lineTo(px + 4, top);
                ctx.moveTo(px - 4, bot); ctx.lineTo(px + 4, bot);
            });
            ctx.stroke();
            ctx.restore();
        }
    };
}

// legend in the upper right of the top panel
const legendBox = {
    id: 'legendBox',
    afterDraw(chart) {
        const { ctx, chartArea: a } = chart;
        const mx = a.right - 593, my = 213;
        ctx.save();
        ctx.strokeStyle = '#000';
        ctx.lineWidth = 2;
        ctx.beginPath();
        ctx.moveTo(mx, my - 30); ctx.lineTo(mx, my + 29);
        ctx.moveTo(mx - 4, my - 30); ctx.lineTo(mx + 4, my - 30);
        ctx.moveTo(mx - 4, my + 29); ctx.lineTo(mx + 4, my + 29);
        ctx.stroke();
        ctx.beginPath();
        ctx.ellipse(mx, my, 7.5, 8, 0, 0, Math.PI * 2);
        ctx.fillStyle = '#0000ff';
        ctx.fill();
        ctx.lineWidth = 1.5;
        ctx.stroke();

        ctx.strokeStyle = '#ff0000';
        ctx.lineWidth = 6;
        ctx.beginPath();
        ctx.moveTo(a.right - 643, 291); ctx.lineTo(a.right - 543, 291);
        ctx.stroke();

        ctx.fillStyle = '#000';
        ctx.font = '60px ' + SERIF;
        ctx.textBaseline = 'alphabetic';
        ctx.fillText('Experimental Data', a.right - 534, 233);
        ctx.fillText('SAMMY Fit', a.right - 534, 310);
        ctx.restore();
    }
};

// red note with arrows pointing at the unresolved resonances
const noteHub = [284.6, 0.0989];
const noteTargets = [[250.55, 0.0724], [257.2, 0.0602], [276.7, 0.0346], [286.7, 0.0455]];
const noteAnchor = [251.8, 0.1365, 0.12];

function drawArrow(ctx, x0, y0, x1, y1) {
    const ang = Math.atan2(y1 - y0, x1 - x0);
    const len = 34, half = 13;
    const bx = x1 - len * Math.cos(ang), by = y1 - len * Math.sin(ang);
    ctx.beginPath();
    ctx.moveTo(x0, y0); ctx.lineTo(bx, by);
    ctx.stroke();
    ctx.beginPath();
    ctx.moveTo(x1, y1);
    ctx.lineTo(bx + half * Math.sin(ang), by - half * Math.cos(ang));
    ctx.lineTo(bx - half * Math.sin(ang), by + half * Math.cos(ang));
    ctx.closePath();
    ctx.fill();
}

const noteLayer = {
    id: 'noteLayer',
    afterDraw(chart) {
        const { ctx, scales: { x, y } } = chart;
        ctx.save();
        ctx.fillStyle = '#b8241b';
        ctx.font = "48px 'Noto Sans CJK SC', sans-serif";
        ctx.textBaseline = 'middle';
        ctx.fillText(noteLines[0], x.getPixelForValue(noteAnchor[0]), y.getPixelForValue(noteAnchor[1]));
        ctx.fillText(noteLines[1], x.getPixelForValue(noteAnchor[0]), y.getPixelForValue(noteAnchor[2]));

        const cx = x.getPixelForValue(noteHub[0]), cy = y.getPixelForValue(noteHub[1]);
        const rx = 28, ry = 24;
        ctx.strokeStyle = '#e8291c';
        ctx.fillStyle = '#e8291c';
        ctx.lineWidth = 4.5;
        ctx.beginPath();
        ctx.ellipse(cx, cy, rx, ry, 0, 0, Math.PI * 2);
        ctx.stroke();
        noteTargets.forEach(([tx, ty]) => {
            const px = x.getPixelForValue(tx), py = y.getPixelForValue(ty);
            const th = Math.atan2((py - cy) / ry, (px - cx) / rx);
            drawArrow(ctx, cx + rx * Math.cos(th), cy + ry * Math.sin(th), px, py);
        });
        ctx.restore();
    }
};

function buildChart(canvasId, cfg) {
    const datasets = [
        {
            label: 'Experimental Data',
            data: toPoints(cfg.exp),
            showLine: false,
            pointRadius: 7.5,
            pointBackgroundColor: '#0000ff',
            pointBorderColor: '#000',
            pointBorderWidth: 1.5,
            order: 1
        },
        {
            label: 'SAMMY Fit',
            data: toPoints(cfg.fit),
            showLine: true,
            borderColor: '#ff0000',
            borderWidth: 6,
            pointRadius: 0,
            tension: 0,
            borderJoinStyle: 'round',
            order: 0
        }
    ];
    return new Chart(document.getElementById(canvasId), {
        type: 'scatter',
        data: { datasets },
        options: {
            responsive: false,
            animation: false,
            devicePixelRatio: 1,
            events: [],
            layout: { padding: { left: 0, right: 71, top: cfg.padTop, bottom: 0 } },
            plugins: { legend: { display: false }, tooltip: { enabled: false } },
            scales: {
                x: {
                    type: 'linear',
                    min: cfg.xMin, max: cfg.xMax,
                    afterBuildTicks: s => { s.ticks = cfg.xTicks.map(v => ({ value: v })); },
                    afterFit: s => { s.height = cfg.xHeight; s.paddingLeft = 0; s.paddingRight = 0; },
                    grid: { display: false, drawTicks: false },
                    border: { display: false },
                    ticks: { padding: 22, maxRotation: 0, autoSkip: false, font: { size: 50 }, color: INK, callback: v => String(v) },
                    title: cfg.xTitle
                },
                y: {
                    type: 'linear',
                    min: 0, max: cfg.yMax,
                    afterBuildTicks: s => { s.ticks = cfg.yTicks.map(v => ({ value: v })); },
                    afterFit: s => { s.width = 354; s.paddingTop = 0; s.paddingBottom = 0; },
                    grid: { display: false, drawTicks: false },
                    border: { display: false },
                    ticks: { padding: 22, autoSkip: false, font: { size: 50 }, color: INK, callback: v => String(v) },
                    title: {
                        display: true,
                        text: 'Capture yield',
                        color: INK,
                        font: { size: 95, lineHeight: 1 },
                        padding: { top: cfg.yTitlePad, bottom: 0 }
                    }
                }
            }
        },
        plugins: [axisFrame, makeErrorBars(cfg.exp)].concat(cfg.extra)
    });
}

buildChart('topChart', {
    exp: expTop, fit: fitTop,
    xMin: 1, xMax: 150, yMax: 1.1,
    xTicks: xTicksTop, yTicks: yTicksTop,
    padTop: 88, xHeight: 77, yTitlePad: 165,
    xTitle: { display: false },
    extra: [legendBox]
});

buildChart('bottomChart', {
    exp: expBottom, fit: fitBottom,
    xMin: 150, xMax: 300, yMax: 0.18,
    xTicks: xTicksBottom, yTicks: yTicksBottom,
    padTop: 11, xHeight: 192, yTitlePad: 138,
    xTitle: {
        display: true,
        text: 'Incident Energy (eV)',
        color: INK,
        font: { size: 95, lineHeight: 1 },
        padding: { top: 0, bottom: 0 }
    },
    extra: [noteLayer]
});
</script>
</body>
</html>
